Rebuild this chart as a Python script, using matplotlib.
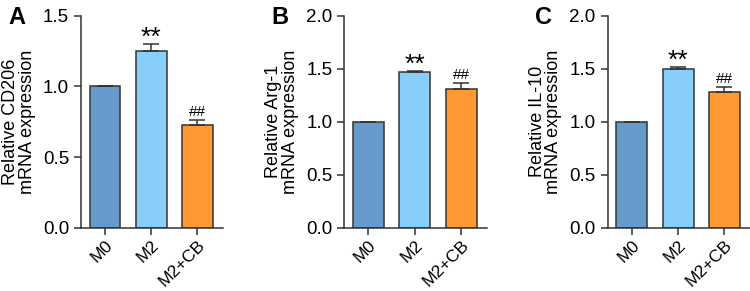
import matplotlib
matplotlib.use("Agg")
import matplotlib.pyplot as plt

plt.rcParams['font.family'] = ['Liberation Sans', 'DejaVu Sans']

categories = ["M0", "M2", "M2+CB"]
cd206 = [1.0, 1.252, 0.725]
cd206_err = [0.0, 0.05, 0.04]
arg1 = [1.0, 1.468, 1.305]
arg1_err = [0.0, 0.015, 0.06]
il10 = [1.0, 1.50, 1.277]
il10_err = [0.0, 0.02, 0.055]
colors = ["#6699CC", "#87CEFA", "#FF9933"]

panels = [
    ("A", cd206, cd206_err, "Relative CD206\nmRNA expression", 1.5, [0.0, 0.5, 1.0, 1.5]),
    ("B", arg1, arg1_err, "Relative Arg-1\nmRNA expression", 2.0, [0.0, 0.5, 1.0, 1.5, 2.0]),
    ("C", il10, il10_err, "Relative IL-10\nmRNA expression", 2.0, [0.0, 0.5, 1.0, 1.5, 2.0]),
]
axpos = [(0.108, 0.189), (0.459, 0.190), (0.810, 0.190)]
stars = ["", "**", "##"]

fig = plt.figure(figsize=(7.5, 2.91), dpi=100)
for (letter, vals, errs, ylabel, ymax, yticks), (left, width) in zip(panels, axpos):
    ax = fig.add_axes([left, 0.2175, width, 0.7285])
    x = list(range(len(categories)))
    ax.bar(x, vals, width=0.67, color=colors, edgecolor="#333333", linewidth=1.1, zorder=2)
    ax.errorbar(x, vals, yerr=[[0]*3, errs], fmt="none", ecolor="#333333",
                elinewidth=1.1, capsize=5.5, capthick=1.1, zorder=3)
    for i, (v, e, s) in enumerate(zip(vals, errs, stars)):
        if s == "**":
            ax.text(i, v + e - ymax*0.03, s, ha="center", va="bottom", fontsize=19)
        elif s == "##":
            ax.text(i, v + e + ymax*0.003, s, ha="center", va="bottom", fontsize=11)
    ax.set_xlim(-0.52, 2.55)
    ax.set_ylim(0, ymax)
    ax.set_yticks(yticks)
    ax.set_yticklabels([f"{t:.1f}" for t in yticks])
    ax.set_xticks(x)
    ax.set_xticklabels(categories, rotation=45, ha="right", rotation_mode="anchor")
    ax.tick_params(axis="both", labelsize=13.5, width=1.1, length=5, color="#333333")
    ax.tick_params(axis="x", labelsize=12.5, pad=2)
    for lbl in ax.get_xticklabels():
        lbl.set_x(lbl.get_position()[0])
    for sp in ["top", "right"]:
        ax.spines[sp].set_visible(False)
    for sp in ["left", "bottom"]:
        ax.spines[sp].set_linewidth(1.1)
        ax.spines[sp].set_color("#333333")
    ax.set_ylabel(ylabel, fontsize=13, labelpad=5, linespacing=1.0)
    ax.text(-0.45, 0.99, letter, transform=ax.transAxes, fontsize=17, fontweight="bold",
            ha="center", va="center")

fig.savefig("out.png", dpi=100)
